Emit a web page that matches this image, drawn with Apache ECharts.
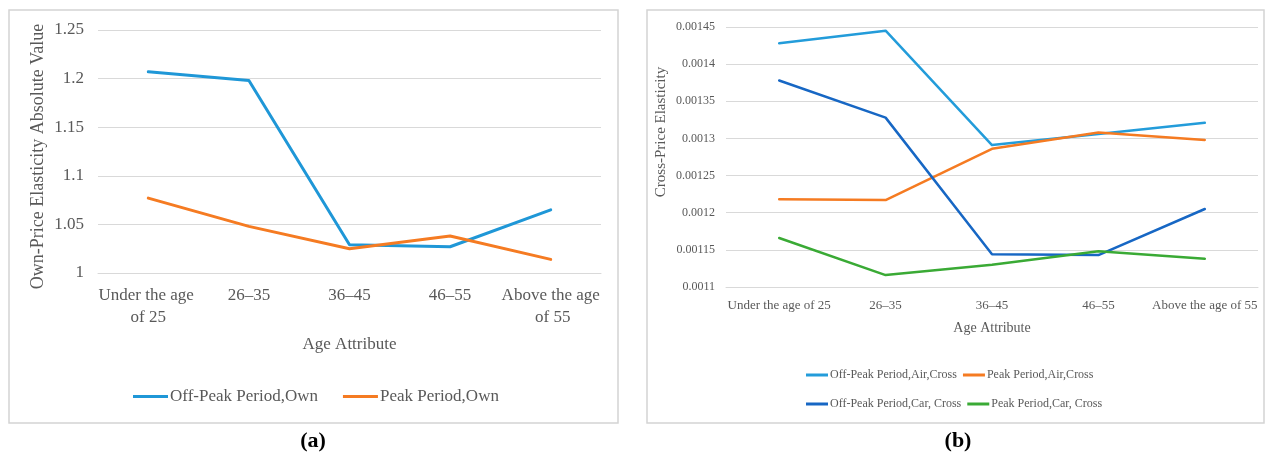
<!DOCTYPE html>
<html>
<head>
<meta charset="utf-8">
<script src="https://cdn.jsdelivr.net/npm/echarts@6/dist/echarts.min.js"></script>
<style>
  html, body { margin: 0; padding: 0; background: #fff; }
  #chart { width: 1266px; height: 456px; }
</style>
</head>
<body>
<div id="chart"></div>
<script>
// Age groups shared by both panels
const categories = ['Under the age of 25', '26–35', '36–45', '46–55', 'Above the age of 55'];

// Panel (a): own-price elasticity (absolute value)
const ownOffPeak = [1.207, 1.198, 1.029, 1.027, 1.065];
const ownPeak = [1.077, 1.048, 1.025, 1.038, 1.014];
const ownAxis = [1, 1.25, 0.05];          // min, max, step

// Panel (b): cross-price elasticity
const crossOffPeakAir = [0.001428, 0.001445, 0.001291, 0.001306, 0.001321];
const crossPeakAir = [0.001218, 0.001217, 0.001286, 0.001308, 0.001298];
const crossOffPeakCar = [0.001378, 0.001328, 0.001144, 0.001143, 0.001205];
const crossPeakCar = [0.001166, 0.001116, 0.001130, 0.001148, 0.001138];
const crossAxis = [0.0011, 0.00145, 0.00005];  // min, max, step

const serif = '"Liberation Serif", "Times New Roman", serif';
const textGray = '#595959';
const gridGray = '#d9d9d9';

const chart = echarts.init(document.getElementById('chart'), null, { renderer: 'canvas' });

function lineSeries(name, data, color, width, idx) {
  return {
    name, type: 'line', data,
    xAxisIndex: idx, yAxisIndex: idx,
    symbol: 'none', smooth: false,
    lineStyle: { color, width, cap: 'round', join: 'round' },
    itemStyle: { color },
    emphasis: { disabled: true }
  };
}

chart.setOption({
  animation: false,
  backgroundColor: '#fff',
  textStyle: { fontFamily: serif, color: textGray },
  grid: [
    { left: 98, top: 30, width: 503, height: 243 },
    { left: 726, top: 27, width: 532, height: 260 }
  ],
  xAxis: [
    {
      gridIndex: 0, type: 'category', data: categories, boundaryGap: true,
      axisLine: { lineStyle: { color: gridGray, width: 1 } },
      axisTick: { show: false },
      axisLabel: {
        color: textGray, fontFamily: serif, fontSize: 17, lineHeight: 22,
        margin: 12, interval: 0, width: 100, overflow: 'break'
      },
      name: 'Age Attribute', nameLocation: 'middle', nameGap: 63,
      nameTextStyle: { color: textGray, fontFamily: serif, fontSize: 17 }
    },
    {
      gridIndex: 1, type: 'category', data: categories, boundaryGap: true,
      axisLine: { lineStyle: { color: gridGray, width: 1 } },
      axisTick: { show: false },
      axisLabel: { color: textGray, fontFamily: serif, fontSize: 13, margin: 12, interval: 0 },
      name: 'Age Attribute', nameLocation: 'middle', nameGap: 34,
      nameTextStyle: { color: textGray, fontFamily: serif, fontSize: 14 }
    }
  ],
  yAxis: [
    {
      gridIndex: 0, type: 'value',
      min: ownAxis[0], max: ownAxis[1], interval: ownAxis[2],
      axisLine: { show: false }, axisTick: { show: false },
      splitLine: { lineStyle: { color: gridGray, width: 1 } },
      axisLabel: { color: textGray, fontFamily: serif, fontSize: 17, margin: 14 },
      name: 'Own-Price Elasticity Absolute Value', nameLocation: 'middle', nameGap: 51,
      nameRotate: 90, nameMoveOverlap: false,
      nameTextStyle: { color: textGray, fontFamily: serif, fontSize: 18, padding: [0, 10, 0, 0] }
    },
    {
      gridIndex: 1, type: 'value',
      min: crossAxis[0], max: crossAxis[1], interval: crossAxis[2],
      axisLine: { show: false }, axisTick: { show: false },
      splitLine: { lineStyle: { color: gridGray, width: 1 } },
      axisLabel: {
        color: textGray, fontFamily: serif, fontSize: 12, margin: 11,
        formatter: v => String(+v.toFixed(6))
      },
      name: 'Cross-Price Elasticity', nameLocation: 'middle', nameGap: 57,
      nameRotate: 90, nameMoveOverlap: false,
      nameTextStyle: { color: textGray, fontFamily: serif, fontSize: 15, padding: [0, 0, 0, 50] }
    }
  ],
  legend: [
    {
      left: 133, top: 388, padding: 0, itemWidth: 35, itemHeight: 3, itemGap: 25, icon: 'rect',
      data: ['Off-Peak Period,Own', 'Peak Period,Own'],
      textStyle: { color: textGray, fontFamily: serif, fontSize: 17, padding: [0, 0, 0, -3] }
    },
    {
      left: 806, top: 369, padding: 0, itemWidth: 22, itemHeight: 3, itemGap: 6, icon: 'rect',
      data: ['Off-Peak Period,Air,Cross', 'Peak Period,Air,Cross'],
      textStyle: { color: textGray, fontFamily: serif, fontSize: 12, padding: [0, 0, 0, -3] }
    },
    {
      left: 806, top: 398, padding: 0, itemWidth: 22, itemHeight: 3, itemGap: 6, icon: 'rect',
      data: ['Off-Peak Period,Car, Cross', 'Peak Period,Car, Cross'],
      textStyle: { color: textGray, fontFamily: serif, fontSize: 12, padding: [0, 0, 0, -3] }
    }
  ],
  graphic: [
    { type: 'rect', shape: { x: 9, y: 10, width: 609, height: 413 },
      style: { fill: 'none', stroke: '#d4d4d4', lineWidth: 1.5 }, silent: true },
    { type: 'rect', shape: { x: 647, y: 10, width: 617, height: 413 },
      style: { fill: 'none', stroke: '#d4d4d4', lineWidth: 1.5 }, silent: true },
    { type: 'text', x: 313, y: 441,
      style: { text: '(a)', fill: '#000', font: 'bold 22px ' + serif, align: 'center', verticalAlign: 'middle' } },
    { type: 'text', x: 958, y: 441,
      style: { text: '(b)', fill: '#000', font: 'bold 22px ' + serif, align: 'center', verticalAlign: 'middle' } }
  ],
  series: [
    lineSeries('Off-Peak Period,Own', ownOffPeak, '#1f97d7', 3, 0),
    lineSeries('Peak Period,Own', ownPeak, '#f57b22', 3, 0),
    lineSeries('Off-Peak Period,Air,Cross', crossOffPeakAir, '#239cda', 2.5, 1),
    lineSeries('Peak Period,Air,Cross', crossPeakAir, '#f57b22', 2.5, 1),
    lineSeries('Off-Peak Period,Car, Cross', crossOffPeakCar, '#1767c4', 2.5, 1),
    lineSeries('Peak Period,Car, Cross', crossPeakCar, '#3aaa35', 2.5, 1)
  ]
});
</script>
</body>
</html>
